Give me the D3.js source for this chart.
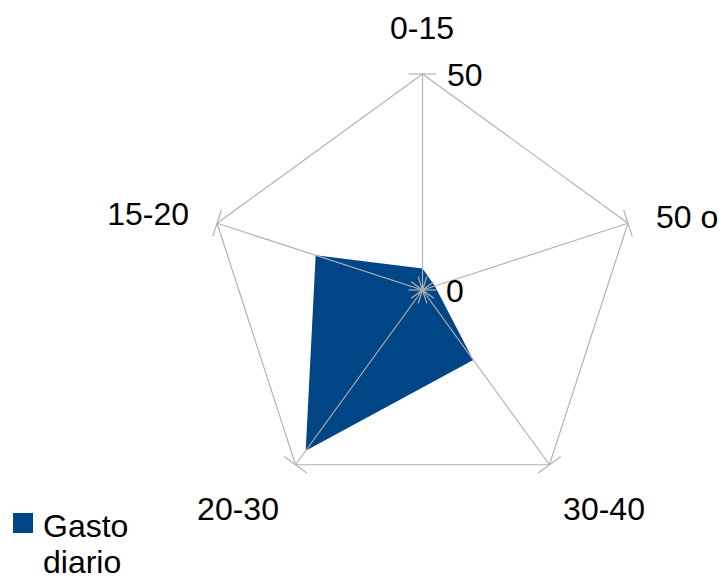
<!DOCTYPE html>
<html>
<head>
<meta charset="utf-8">
<script src="https://cdn.jsdelivr.net/npm/d3@7"></script>
<style>
  body { margin: 0; background: #fff; }
  text { font-family: "Liberation Sans", Arial, sans-serif; fill: #000; }
</style>
</head>
<body>
<svg id="chart" width="722" height="582"></svg>
<script>
// Chart data
const categories = ["0-15", "50 o", "30-40", "20-30", "15-20"];
const gastoDiario = [5, 3, 20, 46, 26];
const tickValues = [0, 50];
const seriesName = ["Gasto", "diario"];

const svg = d3.select("#chart");
const cx = 422.5, cy = 290, R = 216;
const fontSize = 32;

// radial scale and angle for each axis
const r = d3.scaleLinear().domain([0, 50]).range([0, R]);
const angle = d3.scalePoint().domain(d3.range(categories.length))
    .range([0, 2 * Math.PI * (categories.length - 1) / categories.length]);

function pt(i, v) {
    const a = angle(i);
    return [cx + r(v) * Math.sin(a), cy - r(v) * Math.cos(a)];
}

const grey = "#b3b3b3";

// series polygon
svg.append("path")
    .attr("d", d3.line()(gastoDiario.map((v, i) => pt(i, v))) + "Z")
    .attr("fill", "#004586");

// outer pentagon
svg.append("path")
    .attr("d", d3.line()(categories.map((c, i) => pt(i, 50))) + "Z")
    .attr("fill", "none")
    .attr("stroke", grey)
    .attr("stroke-width", 1.2);

// spokes
categories.forEach((c, i) => {
    const [x, y] = pt(i, 50);
    svg.append("line")
        .attr("x1", cx).attr("y1", cy).attr("x2", x).attr("y2", y)
        .attr("stroke", grey).attr("stroke-width", 1.2);
    // tick marks at 0 and 50, perpendicular to each spoke
    const a = angle(i);
    tickValues.forEach(t => {
        const [tx, ty] = pt(i, t);
        const dx = 14 * Math.cos(a), dy = 14 * Math.sin(a);
        svg.append("line")
            .attr("x1", tx - dx).attr("y1", ty - dy)
            .attr("x2", tx + dx).attr("y2", ty + dy)
            .attr("stroke", grey).attr("stroke-width", 1.2);
    });
});

// value labels on the first axis
svg.append("text").attr("x", 447).attr("y", 86)
    .attr("font-size", fontSize).text(tickValues[1]);
svg.append("text").attr("x", 446).attr("y", 302)
    .attr("font-size", fontSize).text(tickValues[0]);

// category labels
const labelPos = [
    { x: 422, y: 39, anchor: "middle" },
    { x: 656, y: 228, anchor: "start" },
    { x: 604, y: 520, anchor: "middle" },
    { x: 238, y: 520, anchor: "middle" },
    { x: 189, y: 225, anchor: "end" }
];
categories.forEach((c, i) => {
    svg.append("text")
        .attr("x", labelPos[i].x).attr("y", labelPos[i].y)
        .attr("text-anchor", labelPos[i].anchor)
        .attr("font-size", fontSize)
        .text(c);
});

// legend
svg.append("rect").attr("x", 13).attr("y", 513).attr("width", 20).attr("height", 20)
    .attr("fill", "#004586");
seriesName.forEach((s, i) => {
    svg.append("text").attr("x", 43).attr("y", 537 + i * 36)
        .attr("font-size", 32).text(s);
});
</script>
</body>
</html>
